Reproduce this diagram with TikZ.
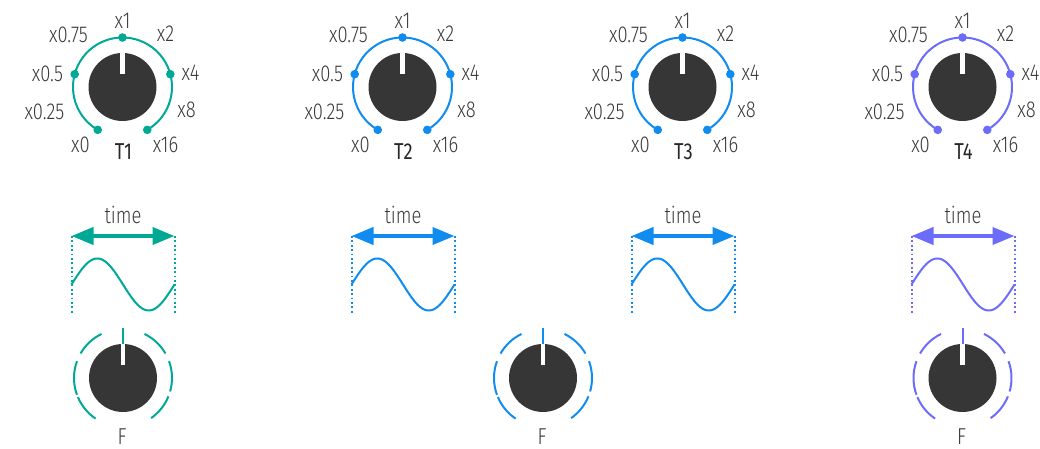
\documentclass[tikz,border=0pt]{standalone}
\usepackage{fontspec}
\setmainfont{Fira Sans}
\newfontfamily\thinfont{Fira Sans Light}[FakeStretch=0.8]
\newfontfamily\plainfont{Fira Sans}[FakeStretch=0.8]
\usetikzlibrary{arrows.meta}
\definecolor{knobteal}{RGB}{0,168,150}
\definecolor{knobblue}{RGB}{16,140,240}
\definecolor{knobviolet}{RGB}{108,108,250}
\definecolor{knobbody}{RGB}{54,54,54}
\definecolor{scaletext}{RGB}{58,58,58}
\tikzset{
  scalelabel/.style={font=\thinfont\fontsize{23}{26}\selectfont, text=scaletext, inner sep=0pt},
  knoblabel/.style={font=\plainfont\fontsize{23}{26}\selectfont, text=black!85, inner sep=0pt},
  ring/.style={line width=2pt},
  spanline/.style={line width=2pt, dash pattern=on 1.8pt off 2.6pt},
  spanarrow/.style={line width=4pt, arrows={Triangle[length=22pt,width=17pt]-Triangle[length=22pt,width=17pt]}}
}
\newcommand{\knobcap}[1]{%
  \fill[knobbody] (#1) circle[radius=34];
  \fill[white] ([shift={(-2.3,13)}]#1) rectangle ([shift={(2.3,34)}]#1);}
\newcommand{\timeknob}[4]{%
  \coordinate (#1) at (#2,362);
  \draw[ring, #3] ([shift={(-60:49.5)}]#1) arc[start angle=-60, end angle=240, radius=49.5];
  \foreach \a in {-60,15,90,165,240}
    \fill[#3] ([shift={(\a:49.5)}]#1) circle[radius=4.3];
  \knobcap{#1}
  \foreach \dx/\dy/\txt [count=\i] in {-42/-58/x0, -78/-25/x0.25, -75/13/x0.5, -54/52/x0.75,
      0/66/x1, 43/53/x2, 68/14/x4, 64/-23/x8, 43/-58/x16}
    \node[scalelabel] (#1-s\i) at ([shift={(\dx,\dy)}]#1) {\txt};
  \node[knoblabel] (#1-name) at ([shift={(1,-65)}]#1) {#4};}
\newcommand{\timespan}[3]{%
  \coordinate (#1-l) at ({#2-51.5},213);
  \coordinate (#1-r) at ({#2+51.5},213);
  \coordinate (#1-lb) at ({#2-51.5},136);
  \coordinate (#1-rb) at ({#2+51.5},136);
  \draw[spanline, #3] (#1-l) -- (#1-lb);
  \draw[spanline, #3] (#1-r) -- (#1-rb);
  \draw[spanarrow, #3] (#1-l) -- (#1-r);
  \draw[ring, #3] plot[domain=0:360, samples=73, smooth] ({#2-51.5+103*(\x/360)},{164.5+26*sin(\x)});
  \node[scalelabel] (#1-time) at (#2,234.5) {time};}
\newcommand{\fineknob}[3]{%
  \coordinate (#1) at (#2,71);
  \foreach \s/\e in {116/150, 160/200, 203/236, -55/-22, -16/20, 30/64}
    \draw[ring, #3] ([shift={(\s:49)}]#1) arc[start angle=\s, end angle=\e, radius=49];
  \coordinate (#1-tick) at ([shift={(0,50)}]#1);
  \draw[ring, #3] ([shift={(0,33)}]#1) -- (#1-tick);
  \knobcap{#1}
  \node[scalelabel] (#1-name) at ([shift={(-1,-59)}]#1) {F};}

\begin{document}
\begin{tikzpicture}[x=1pt, y=1pt]
  \useasboundingbox (0,0) rectangle (1040,449);
  \timeknob{t1}{122.5}{knobteal}{T1}
  \timeknob{t2}{402.5}{knobblue}{T2}
  \timeknob{t3}{682.5}{knobblue}{T3}
  \timeknob{t4}{962.5}{knobviolet}{T4}
  \timespan{w1}{123}{knobteal}
  \timespan{w2}{403}{knobblue}
  \timespan{w3}{683}{knobblue}
  \timespan{w4}{963}{knobviolet}
  \fineknob{f1}{123}{knobteal}
  \fineknob{f2}{543}{knobblue}
  \fineknob{f3}{962.5}{knobviolet}
\end{tikzpicture}
\end{document}
